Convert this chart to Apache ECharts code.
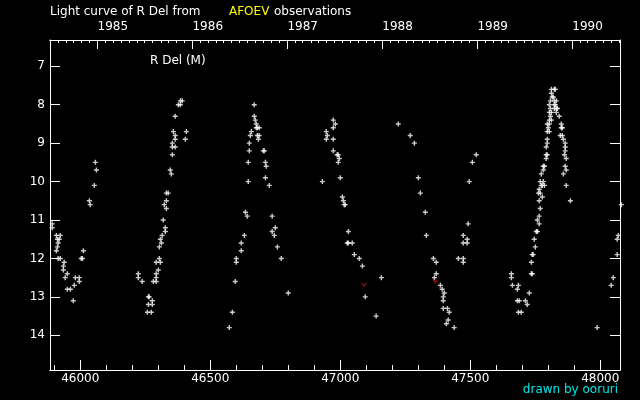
<!DOCTYPE html>
<html>
<head>
<meta charset="utf-8">
<script src="https://cdn.jsdelivr.net/npm/echarts@6/dist/echarts.min.js"></script>
<style>
html,body{margin:0;padding:0;background:#000;}
#chart{width:640px;height:400px;}
</style>
</head>
<body>
<div id="chart"></div>
<script>
// ---- Data: [JD - 2400000, visual magnitude] ----
const cycle1 = [[45892,11.1],[45892,11.2],[45908,11.4],[45923,11.4],[45912,11.5],[45919,11.5],[45915,11.6],[45912,11.7],[45908,11.8],[45915,12.0],[45923,12.0],[45938,12.1],[45935,12.2],[45935,12.3],[45950,12.4],[45942,12.5],[45950,12.8],[45962,12.8],[45973,13.1],[45977,12.7],[45981,12.5],[45996,12.5],[45996,12.6],[46004,12.0],[46008,12.0],[46012,11.8],[46035,10.5],[46038,10.6],[46054,10.1],[46058,9.5],[46062,9.7]];
const cycle2 = [[46223,12.4],[46223,12.5],[46238,12.6],[46262,13.0],[46265,13.0],[46277,13.1],[46262,13.2],[46277,13.2],[46258,13.4],[46273,13.4],[46281,12.6],[46292,12.6],[46292,12.5],[46292,12.4],[46300,12.3],[46292,12.1],[46308,12.1],[46304,12.0],[46304,11.7],[46312,11.6],[46308,11.5],[46315,11.4],[46327,11.3],[46327,11.2],[46319,11.0],[46323,10.6],[46331,10.7],[46331,10.5],[46331,10.3],[46338,10.3],[46350,9.8],[46346,9.7],[46354,9.3],[46354,9.1],[46365,9.1],[46354,9.0],[46365,8.9],[46365,8.8],[46358,8.7],[46365,8.3],[46377,8.0],[46385,8.0],[46385,7.9],[46392,7.9],[46408,8.7],[46404,8.9]];
const cycle3 = [[46669,8.0],[46669,8.3],[46673,8.4],[46677,8.5],[46677,8.6],[46681,8.6],[46688,8.6],[46658,8.7],[46654,8.8],[46681,8.8],[46688,8.8],[46685,8.9],[46650,9.0],[46650,9.2],[46704,9.2],[46708,9.2],[46646,9.5],[46712,9.5],[46715,9.6],[46646,10.0],[46712,9.9],[46727,10.1],[46635,10.8],[46642,10.9],[46738,10.9],[46750,11.2],[46738,11.3],[46746,11.4],[46631,11.4],[46619,11.6],[46619,11.8],[46758,11.7],[46600,12.0],[46600,12.1],[46773,12.0],[46596,12.6],[46800,12.9],[46585,13.4],[46573,13.8]];
const cycle4 = [[46973,8.4],[46981,8.5],[46973,8.6],[46946,8.7],[46950,8.8],[46946,8.9],[46973,8.9],[46973,9.2],[46988,9.3],[46992,9.3],[46996,9.4],[46992,9.5],[46931,10.0],[47000,9.9],[47008,10.4],[47012,10.5],[47015,10.6],[47019,10.6],[47031,11.3],[47027,11.6],[47031,11.6],[47046,11.6],[47054,11.9],[47073,12.0],[47085,12.2],[47158,12.5],[47096,13.0],[47138,13.5]];
const cycle5 = [[47223,8.5],[47269,8.8],[47285,9.0],[47300,9.9],[47308,10.3],[47327,10.8],[47331,11.4],[47358,12.0],[47369,12.1],[47369,12.4],[47362,12.5],[47385,12.7],[47392,12.8],[47400,12.9],[47396,13.0],[47396,13.1],[47396,13.3],[47412,13.3],[47419,13.4],[47415,13.6],[47408,13.7],[47438,13.8],[47523,9.3],[47508,9.5],[47496,10.0],[47492,11.1],[47473,11.4],[47488,11.5],[47473,11.6],[47488,11.6],[47454,12.0],[47473,12.0],[47473,12.1]];
const cycle6 = [[47658,12.4],[47658,12.5],[47662,12.7],[47685,12.7],[47681,12.8],[47681,13.1],[47688,13.1],[47685,13.4],[47696,13.4],[47712,13.1],[47719,13.2],[47727,12.9],[47735,12.4],[47738,12.4],[47735,12.1],[47738,11.9],[47742,11.9],[47750,11.7],[47746,11.5],[47754,11.3],[47758,11.3],[47765,11.1],[47758,11.0],[47765,10.9],[47769,10.7],[47765,10.5],[47777,10.4],[47762,10.3],[47769,10.3],[47765,10.2],[47773,10.1],[47777,10.1],[47785,10.1],[47769,10.0],[47781,10.0],[47773,9.8],[47781,9.7],[47781,9.6],[47785,9.6],[47792,9.4],[47792,9.3],[47796,9.3],[47792,9.1],[47796,9.0],[47796,8.9],[47796,8.7],[47804,8.7],[47800,8.6],[47796,8.5],[47804,8.5],[47804,8.4],[47812,8.4],[47808,8.3],[47804,8.2],[47812,8.2],[47808,8.1],[47804,8.0],[47808,7.9],[47815,7.8],[47819,7.8],[47812,7.7],[47812,7.6],[47823,7.6],[47827,7.6],[47823,7.9],[47831,7.9],[47823,8.0],[47827,8.0],[47823,8.1],[47831,8.1],[47835,8.1],[47831,8.2],[47842,8.3],[47850,8.5],[47850,8.6],[47854,8.6],[47846,8.8],[47854,8.8],[47858,8.9],[47865,9.0],[47865,9.1],[47865,9.2],[47862,9.3],[47869,9.4],[47865,9.6],[47869,9.7],[47858,9.8],[47869,10.1],[47885,10.5],[47988,13.8]];
const cycle7 = [[48081,10.6],[48069,11.4],[48065,11.5],[48065,11.9],[48050,12.5],[48042,12.7]];
const fainterThan = [[47092,12.7],[47365,12.6]];

// ---- Tick values / labels ----
const jdTicks = [46000,46500,47000,47500,48000];
const jdMinorTicks = [45900,46000,46100,46200,46300,46400,46500,46600,46700,46800,46900,47000,47100,47200,47300,47400,47500,47600,47700,47800,47900,48000];
const magTicks = [7,8,9,10,11,12,13,14];
const yearLabels = ['1985','1986','1987','1988','1989','1990'];
const yearStartJD = [46066.5,46431.5,46796.5,47161.5,47527.5,47892.5];

// monthly ticks along the top axis (first day of each month)
const monthTicks = [];
for (let y = 1984; y <= 1990; y++) {
  for (let m = 0; m < 12; m++) {
    monthTicks.push(Date.UTC(y, m, 1) / 86400000 + 40587.5);
  }
}

const X_MIN = 45883.5, X_MAX = 48075.8;
const Y_MIN = 6.316, Y_MAX = 14.903;
const FONT = 'DejaVu Sans';

const plus = 'path://M1.8,0L3.2,0L3.2,1.8L5,1.8L5,3.2L3.2,3.2L3.2,5L1.8,5L1.8,3.2L0,3.2L0,1.8L1.8,1.8Z';
const vee = 'path://M0,0L1.2,0L2,2L2.8,0L4,0L2,3.2Z';

function xAx(extra) {
  return Object.assign({
    type: 'value', min: X_MIN, max: X_MAX, gridIndex: 0,
    splitLine: {show: false},
    axisLine: {show: true, onZero: false, lineStyle: {color: '#fff', width: 1}}
  }, extra);
}
function yAx(extra) {
  return Object.assign({
    type: 'value', min: Y_MIN, max: Y_MAX, inverse: true, gridIndex: 0,
    splitLine: {show: false},
    axisLine: {show: true, onZero: false, lineStyle: {color: '#fff', width: 1}}
  }, extra);
}

const chart = echarts.init(document.getElementById('chart'), null, {renderer: 'canvas'});
chart.setOption({
  backgroundColor: '#000',
  animation: false,
  grid: {left: 50, right: 20, top: 40, bottom: 30, containLabel: false},
  xAxis: [
    xAx({position: 'bottom',
      axisTick: {show: true, inside: true, length: 10, customValues: jdTicks, lineStyle: {color: '#fff'}},
      axisLabel: {show: true, customValues: jdTicks, margin: 3, color: '#fff', fontFamily: FONT, fontSize: 12,
        formatter: v => String(v)}}),
    xAx({position: 'bottom',
      axisTick: {show: true, inside: true, length: 5, customValues: jdMinorTicks, lineStyle: {color: '#fff'}},
      axisLabel: {show: false}}),
    xAx({position: 'top',
      axisTick: {show: true, inside: true, length: 9, customValues: yearStartJD, lineStyle: {color: '#fff'}},
      axisLabel: {show: true, customValues: yearStartJD, margin: 7, align: 'left', color: '#fff', fontFamily: FONT, fontSize: 12,
        formatter: v => { const i = yearStartJD.findIndex(t => Math.abs(t - v) < 0.01); return i >= 0 ? yearLabels[i] : ''; }}}),
    xAx({position: 'top',
      axisTick: {show: true, inside: true, length: 3, customValues: monthTicks.filter(t => t > X_MIN && t < X_MAX), lineStyle: {color: '#fff'}},
      axisLabel: {show: false}})
  ],
  yAxis: [
    yAx({position: 'left',
      axisTick: {show: true, inside: true, length: 10, customValues: magTicks, lineStyle: {color: '#fff'}},
      axisLabel: {show: true, customValues: magTicks, margin: 5, color: '#fff', fontFamily: FONT, fontSize: 12,
        formatter: v => String(v)}}),
    yAx({position: 'right',
      axisTick: {show: true, inside: true, length: 10, customValues: magTicks, lineStyle: {color: '#fff'}},
      axisLabel: {show: false}})
  ],
  series: [
    {
      type: 'scatter', xAxisIndex: 0, yAxisIndex: 0, clip: false,
      symbol: plus, symbolSize: 5,
      itemStyle: {color: '#fff'},
      data: [].concat(cycle1, cycle2, cycle3, cycle4, cycle5, cycle6, cycle7)
    },
    {
      type: 'scatter', xAxisIndex: 0, yAxisIndex: 0,
      symbol: vee, symbolSize: [5, 4],
      itemStyle: {color: '#e01010'},
      data: fainterThan
    }
  ],
  graphic: [
    {type: 'text', x: 50, y: 12, style: {text: 'Light curve of R Del from', fill: '#fff', font: '12px "DejaVu Sans"', verticalAlign: 'middle'}},
    {type: 'text', x: 229, y: 12, style: {text: 'AFOEV', fill: '#ffff00', font: '12px "DejaVu Sans"', verticalAlign: 'middle'}},
    {type: 'text', x: 274, y: 12, style: {text: 'observations', fill: '#fff', font: '12px "DejaVu Sans"', verticalAlign: 'middle'}},
    {type: 'text', x: 150, y: 61, style: {text: 'R Del (M)', fill: '#fff', font: '12px "DejaVu Sans"', verticalAlign: 'middle'}},
    {type: 'text', x: 618, y: 390, style: {text: 'drawn by ooruri', fill: '#00e8e8', font: '12px "DejaVu Sans"', align: 'right', verticalAlign: 'middle'}}
  ]
});
</script>
</body>
</html>
